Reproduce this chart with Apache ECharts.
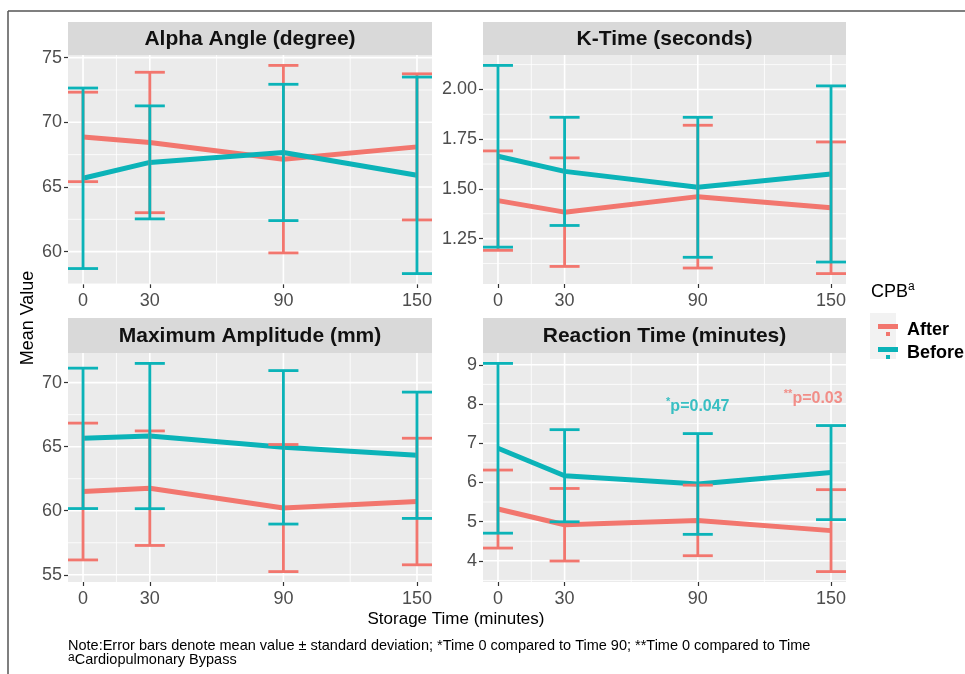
<!DOCTYPE html>
<html><head><meta charset="utf-8">
<script src="https://cdn.jsdelivr.net/npm/echarts@6/dist/echarts.min.js"></script>
<style>html,body{margin:0;padding:0;background:#fff}#c{width:965px;height:674px}</style>
</head><body><div id="c"></div>
<script>
// ---------- data ----------
const times = [0, 30, 90, 150];
const minorTimes = [15, 60, 120];
const groups = ['After', 'Before'];
const panelTitles = ['Alpha Angle (degree)', 'K-Time (seconds)', 'Maximum Amplitude (mm)', 'Reaction Time (minutes)'];

const alphaAfterMean  = [68.87, 68.44, 67.15, 68.10];
const alphaAfterSd    = [3.46, 5.43, 7.25, 5.65];
const alphaBeforeMean = [65.67, 66.90, 67.67, 65.90];
const alphaBeforeSd   = [6.98, 4.37, 5.27, 7.60];

const kAfterMean  = [1.441, 1.383, 1.461, 1.405];
const kAfterSd    = [0.250, 0.273, 0.359, 0.331];
const kBeforeMean = [1.664, 1.588, 1.508, 1.575];
const kBeforeSd   = [0.457, 0.272, 0.352, 0.443];

const maAfterMean  = [61.50, 61.76, 60.21, 60.72];
const maAfterSd    = [5.34, 4.47, 4.96, 4.94];
const maBeforeMean = [65.65, 65.83, 64.95, 64.33];
const maBeforeSd   = [5.48, 5.67, 5.99, 4.93];

const rtAfterMean  = [5.32, 4.92, 5.03, 4.77];
const rtAfterSd    = [0.995, 0.925, 0.90, 1.045];
const rtBeforeMean = [6.87, 6.17, 5.96, 6.25];
const rtBeforeSd   = [2.165, 1.175, 1.285, 1.20];

const alphaTicks = [60, 65, 70, 75];
const kTicks = [1.25, 1.50, 1.75, 2.00];
const maTicks = [55, 60, 65, 70];
const rtTicks = [4, 5, 6, 7, 8, 9];

const annotTexts = ['p=0.047', 'p=0.03'];
const annotStars = ['*', '**'];
const annotX = [90, 142];
const annotY = [7.94, 8.13];

const legendTitle = 'CPB';
const xTitle = 'Storage Time (minutes)';
const yTitle = 'Mean Value';
const note1 = 'Note:Error bars denote mean value \u00b1 standard deviation; *Time 0 compared to Time 90; **Time 0 compared to Time';
const note2 = 'Cardiopulmonary Bypass';

// ---------- styling ----------
const colors = ['#F2766E', '#0BB3B8'];
const capHalf = 6.75;
const mainFont = "'Liberation Sans', Arial, sans-serif";

const panels = [
  {title: panelTitles[0], means: [alphaAfterMean, alphaBeforeMean], sds: [alphaAfterSd, alphaBeforeSd], ticks: alphaTicks, fmt: v => String(v)},
  {title: panelTitles[1], means: [kAfterMean, kBeforeMean], sds: [kAfterSd, kBeforeSd], ticks: kTicks, fmt: v => v.toFixed(2)},
  {title: panelTitles[2], means: [maAfterMean, maBeforeMean], sds: [maAfterSd, maBeforeSd], ticks: maTicks, fmt: v => String(v)},
  {title: panelTitles[3], means: [rtAfterMean, rtBeforeMean], sds: [rtAfterSd, rtBeforeSd], ticks: rtTicks, fmt: v => String(v)}
];

const gridBoxes = [
  {left: 68, top: 55, width: 364, height: 229},
  {left: 483, top: 55, width: 363, height: 229},
  {left: 68, top: 353, width: 364, height: 229},
  {left: 483, top: 353, width: 363, height: 229}
];
const stripBoxes = [
  {top: 22, height: 33}, {top: 22, height: 33}, {top: 318, height: 35}, {top: 318, height: 35}
];

const xMin = times[0] - capHalf, xMax = times[times.length - 1] + capHalf;

const grids = [], xAxes = [], yAxes = [], series = [], graphics = [];

panels.forEach((p, gi) => {
  // y range like ggplot: data range (incl. error bars) expanded by 5%
  let lo = Infinity, hi = -Infinity;
  p.means.forEach((m, k) => m.forEach((v, i) => {
    lo = Math.min(lo, v - p.sds[k][i]); hi = Math.max(hi, v + p.sds[k][i]);
  }));
  const pad = (hi - lo) * 0.05;
  const yMin = lo - pad, yMax = hi + pad;
  const step = p.ticks[1] - p.ticks[0];
  const minorY = [];
  for (let v = p.ticks[0] - step / 2; v <= p.ticks[p.ticks.length - 1] + step / 2 + 1e-9; v += step) {
    if (v >= yMin && v <= yMax) minorY.push(+v.toFixed(6));
  }

  grids.push(Object.assign({show: true, backgroundColor: '#EBEBEB', borderWidth: 0}, gridBoxes[gi]));
  xAxes.push({
    gridIndex: gi, type: 'value', min: xMin, max: xMax, position: 'bottom',
    axisLine: {show: false, onZero: false}, splitLine: {show: false},
    axisTick: {show: true, customValues: times, length: 4, lineStyle: {color: '#333', width: 1.2}},
    axisLabel: {customValues: times, color: '#4D4D4D', fontSize: 18, fontFamily: mainFont, margin: 8}
  });
  yAxes.push({
    gridIndex: gi, type: 'value', min: yMin, max: yMax, position: 'left',
    axisLine: {show: false, onZero: false}, splitLine: {show: false},
    axisTick: {show: true, customValues: p.ticks, length: 4, lineStyle: {color: '#333', width: 1.2}},
    axisLabel: {customValues: p.ticks, color: '#4D4D4D', fontSize: 18, fontFamily: mainFont, margin: 6, formatter: p.fmt}
  });

  // grid lines
  const vLine = (w) => (params, api) => {
    const cs = params.coordSys;
    const x = api.coord([api.value(0), yMin])[0];
    return {type: 'line', shape: {x1: x, y1: cs.y, x2: x, y2: cs.y + cs.height}, style: {stroke: '#fff', lineWidth: w}};
  };
  const hLine = (w) => (params, api) => {
    const cs = params.coordSys;
    const y = api.coord([xMin, api.value(0)])[1];
    return {type: 'line', shape: {x1: cs.x, y1: y, x2: cs.x + cs.width, y2: y}, style: {stroke: '#fff', lineWidth: w}};
  };
  series.push({type: 'custom', xAxisIndex: gi, yAxisIndex: gi, silent: true, z: 1, encode: {x: 0}, data: minorTimes.map(v => [v]), renderItem: vLine(0.8)});
  series.push({type: 'custom', xAxisIndex: gi, yAxisIndex: gi, silent: true, z: 1, encode: {y: 0}, data: minorY.map(v => [v]), renderItem: hLine(0.8)});
  series.push({type: 'custom', xAxisIndex: gi, yAxisIndex: gi, silent: true, z: 1, encode: {x: 0}, data: times.map(v => [v]), renderItem: vLine(1.6)});
  series.push({type: 'custom', xAxisIndex: gi, yAxisIndex: gi, silent: true, z: 1, encode: {y: 0}, data: p.ticks.map(v => [v]), renderItem: hLine(1.6)});

  // mean lines
  groups.forEach((g, k) => {
    series.push({
      name: g, type: 'line', xAxisIndex: gi, yAxisIndex: gi, z: 3 + k,
      data: times.map((t, i) => [t, p.means[k][i]]),
      symbol: 'none', lineStyle: {color: colors[k], width: 5}, itemStyle: {color: colors[k]},
      silent: true, animation: false
    });
  });
  // error bars
  groups.forEach((g, k) => {
    series.push({
      name: g, type: 'custom', xAxisIndex: gi, yAxisIndex: gi, z: 5 + k,
      encode: {x: 0, y: [1, 2]},
      data: times.map((t, i) => [t, p.means[k][i] - p.sds[k][i], p.means[k][i] + p.sds[k][i]]),
      itemStyle: {color: colors[k]},
      renderItem: (params, api) => {
        const x = api.value(0), l = api.value(1), h = api.value(2);
        const b = api.coord([x, l]), t = api.coord([x, h]);
        const bl = api.coord([x - capHalf, l]), br = api.coord([x + capHalf, l]);
        const tl = api.coord([x - capHalf, h]), tr = api.coord([x + capHalf, h]);
        const st = {stroke: colors[k], lineWidth: 2.8};
        return {type: 'group', children: [
          {type: 'line', shape: {x1: b[0], y1: b[1], x2: t[0], y2: t[1]}, style: st},
          {type: 'line', shape: {x1: bl[0], y1: bl[1], x2: br[0], y2: br[1]}, style: st},
          {type: 'line', shape: {x1: tl[0], y1: tl[1], x2: tr[0], y2: tr[1]}, style: st}
        ]};
      },
      silent: true, animation: false
    });
  });

  // strip
  const gb = gridBoxes[gi], sb = stripBoxes[gi];
  graphics.push({type: 'rect', left: gb.left, top: sb.top, shape: {width: gb.width, height: sb.height}, style: {fill: '#D9D9D9'}, silent: true});
  graphics.push({type: 'text', x: gb.left + gb.width / 2, y: sb.top + sb.height / 2 + 1,
    style: {text: p.title, fill: '#111', font: 'bold 21px ' + mainFont, align: 'center', verticalAlign: 'middle'}, silent: true});
});

// annotations in reaction time panel
annotTexts.forEach((txt, j) => {
  series.push({
    type: 'scatter', xAxisIndex: 3, yAxisIndex: 3, z: 8, symbolSize: 0,
    data: [[annotX[j], annotY[j]]],
    label: {
      show: true, position: 'inside', formatter: '{s|' + annotStars[j] + '}{b|' + txt + '}',
      rich: {
        s: {fontSize: 11, fontWeight: 'bold', color: colors[1 - j], verticalAlign: 'top', fontFamily: mainFont},
        b: {fontSize: 16, fontWeight: 'bold', color: colors[1 - j], fontFamily: mainFont, lineHeight: 20}
      }
    },
    silent: true, animation: false
  });
});

// frame lines
graphics.push({type: 'line', shape: {x1: 8, y1: 11, x2: 965, y2: 11}, style: {stroke: '#555', lineWidth: 1.5}, silent: true});
graphics.push({type: 'line', shape: {x1: 8, y1: 11, x2: 8, y2: 674}, style: {stroke: '#555', lineWidth: 1.5}, silent: true});
// axis titles
graphics.push({type: 'text', x: 28, y: 318, rotation: Math.PI / 2,
  style: {text: yTitle, fill: '#000', font: '18px ' + mainFont, align: 'center', verticalAlign: 'middle'}, silent: true});
graphics.push({type: 'text', x: 456, y: 619,
  style: {text: xTitle, fill: '#000', font: '17px ' + mainFont, align: 'center', verticalAlign: 'middle'}, silent: true});
// legend title
graphics.push({type: 'text', x: 871, y: 292,
  style: {text: '{t|' + legendTitle + '}{a|a}', verticalAlign: 'middle', align: 'left',
    rich: {t: {fontSize: 18, fontFamily: mainFont, fill: '#000', lineHeight: 22}, a: {fontSize: 12, fontFamily: mainFont, fill: '#000', verticalAlign: 'top'}}}, silent: true});
// legend key background
graphics.push({type: 'rect', left: 870, top: 313, shape: {width: 26, height: 46}, style: {fill: '#F2F2F2'}, silent: true});
// footnotes
graphics.push({type: 'text', x: 68, y: 646,
  style: {text: note1, fill: '#000', font: '14.5px ' + mainFont, align: 'left', verticalAlign: 'middle'}, silent: true});
graphics.push({type: 'text', x: 68, y: 660,
  style: {text: '{a|a}{t|' + note2 + '}', align: 'left', verticalAlign: 'middle',
    rich: {a: {fontSize: 12, fontFamily: mainFont, fill: '#000', verticalAlign: 'top'}, t: {fontSize: 14.5, fontFamily: mainFont, fill: '#000', lineHeight: 16}}}, silent: true});

const chart = echarts.init(document.getElementById('c'), null, {renderer: 'canvas'});
chart.setOption({
  animation: false,
  backgroundColor: '#fff',
  grid: grids, xAxis: xAxes, yAxis: yAxes, series: series,
  legend: {
    data: groups, orient: 'vertical', left: 873, top: 315, itemWidth: 20, itemHeight: 12, itemGap: 3,
    icon: 'path://M0,0H20V5H0Z M8,8H12V12H8Z', selectedMode: false,
    textStyle: {fontSize: 18, fontWeight: 'bold', color: '#000', fontFamily: mainFont, lineHeight: 20, padding: [0, 0, 0, 4]}
  },
  graphic: graphics
});
</script></body></html>
